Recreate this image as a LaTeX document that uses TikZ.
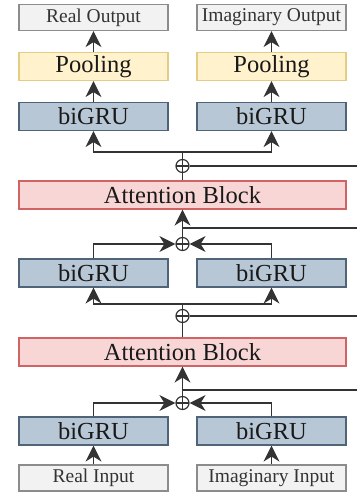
\documentclass[tikz,border=0pt]{standalone}
\usepackage{fontspec}
\setmainfont{Liberation Serif}
\usetikzlibrary{positioning,arrows.meta}

\definecolor{ioFill}{HTML}{F2F2F2}
\definecolor{ioDraw}{HTML}{8C8C8C}
\definecolor{ioText}{HTML}{333333}
\definecolor{gruFill}{HTML}{B8C7D5}
\definecolor{gruDraw}{HTML}{4F6478}
\definecolor{poolFill}{HTML}{FFF2CC}
\definecolor{poolDraw}{HTML}{E3CD84}
\definecolor{attFill}{HTML}{F9D6D6}
\definecolor{attDraw}{HTML}{D06464}
\definecolor{lineGray}{HTML}{333333}

\begin{document}
\begin{tikzpicture}[x=1pt, y=1pt, on grid,
    link/.style={draw=lineGray, line width=1.2pt},
    arr/.style={draw=lineGray, line width=1.2pt, -{Stealth[length=16pt,width=16pt,inset=5pt]}},
    block/.style={draw, line width=1.2pt, minimum width=149pt, minimum height=28pt,
        inner sep=0pt, text=black!90, font=\fontsize{24.5}{26}\selectfont},
    io/.style={block, fill=ioFill, draw=ioDraw, minimum height=26pt,
        text=ioText, font=\fontsize{19.5}{22}\selectfont},
    gru/.style={block, fill=gruFill, draw=gruDraw},
    pool/.style={block, fill=poolFill, draw=poolDraw},
    att/.style={block, fill=attFill, draw=attDraw, minimum width=327pt},
    adder/.style={circle, draw=lineGray, line width=1.2pt, minimum size=13pt, inner sep=0pt,
        path picture={\draw[line width=1.2pt]
            (path picture bounding box.north) -- (path picture bounding box.south)
            (path picture bounding box.west) -- (path picture bounding box.east);}}]
    \useasboundingbox (0,0) rectangle (357,492);

    % inputs and first recurrent layer
    \node[io] (in_r) at (93.5,14) {Real Input};
    \node[io] (in_i) [right=178pt of in_r] {Imaginary Input};
    \node[gru] (gru_r1) [above=47pt of in_r] {biGRU};
    \node[gru] (gru_i1) [above=47pt of in_i] {biGRU};

    % first attention stage
    \node[adder] (add_4) at (182.5,89) {};
    \node[att] (att_2) [above=51pt of add_4] {Attention Block};
    \node[adder] (add_3) [above=36pt of att_2] {};

    % second recurrent layer
    \node[gru] (gru_r2) [above=158pt of gru_r1] {biGRU};
    \node[gru] (gru_i2) [above=158pt of gru_i1] {biGRU};

    % second attention stage
    \node[adder] (add_2) [above=72pt of add_3] {};
    \node[att] (att_1) [above=49pt of add_2] {Attention Block};
    \node[adder] (add_1) [above=29pt of att_1] {};

    % output heads
    \node[gru] (gru_r3) [above=156.5pt of gru_r2] {biGRU};
    \node[gru] (gru_i3) [above=156.5pt of gru_i2] {biGRU};
    \node[pool] (pool_r) [above=50pt of gru_r3] {Pooling};
    \node[pool] (pool_i) [above=50pt of gru_i3] {Pooling};
    \node[io] (out_r) [above=49pt of pool_r] {Real Output};
    \node[io] (out_i) [above=49pt of pool_i] {Imaginary Output};

    % taps and forks on the trunk
    \coordinate[above=13pt of add_4] (tap_2);
    \coordinate[above=12pt of add_3] (fork_2);
    \coordinate[above=16pt of add_2] (tap_1);
    \coordinate[above=14pt of add_1] (fork_1);
    \coordinate (res_2) at (357,102);
    \coordinate (ret_3) at (357,176);
    \coordinate (res_1) at (357,264);
    \coordinate (ret_1) at (357,326);

    \draw[arr] (in_r) -- (gru_r1);
    \draw[arr] (in_i) -- (gru_i1);
    \draw[arr] (gru_r1.north) |- (add_4.west);
    \draw[arr] (gru_i1.north) |- (add_4.east);
    \draw[arr] (add_4) -- (att_2);
    \draw[link] (tap_2) -- (res_2);
    \draw[link] (att_2) -- (add_3);
    \draw[link] (ret_3) -- (add_3);
    \draw[link] (add_3) -- (fork_2);
    \draw[arr] (fork_2) -| (gru_r2);
    \draw[arr] (fork_2) -| (gru_i2);

    \draw[arr] (gru_r2.north) |- (add_2.west);
    \draw[arr] (gru_i2.north) |- (add_2.east);
    \draw[arr] (add_2) -- (att_1);
    \draw[link] (tap_1) -- (res_1);
    \draw[link] (att_1) -- (add_1);
    \draw[link] (ret_1) -- (add_1);
    \draw[link] (add_1) -- (fork_1);
    \draw[arr] (fork_1) -| (gru_r3);
    \draw[arr] (fork_1) -| (gru_i3);

    \draw[arr] (gru_r3) -- (pool_r);
    \draw[arr] (gru_i3) -- (pool_i);
    \draw[arr] (pool_r) -- (out_r);
    \draw[arr] (pool_i) -- (out_i);
\end{tikzpicture}
\end{document}
